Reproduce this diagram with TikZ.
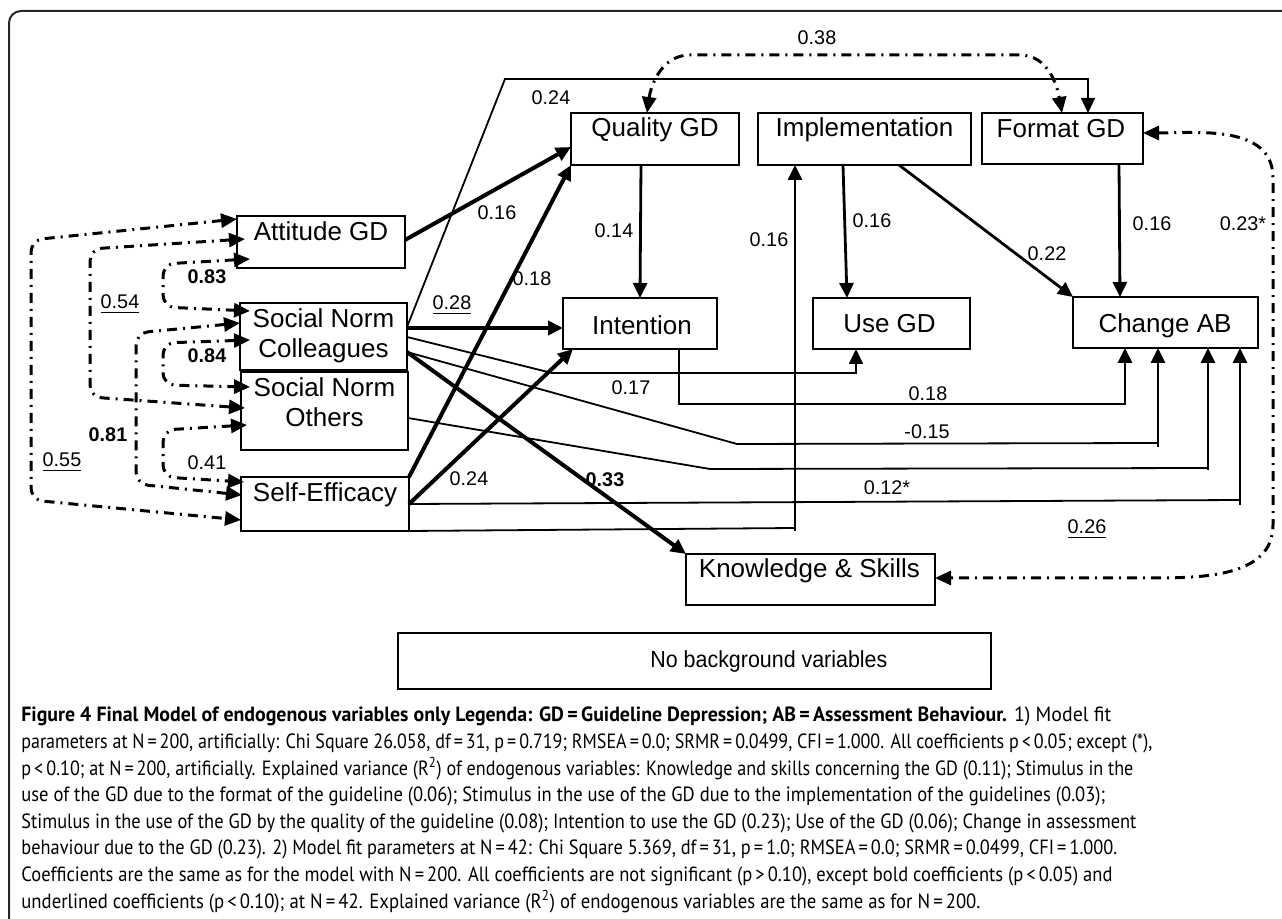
\documentclass[tikz,border=0pt]{standalone}
\usepackage{fontspec}
\usepackage{graphicx}
\setmainfont{Liberation Sans}
\newfontfamily\capfont{PT Sans}
\usetikzlibrary{arrows.meta,calc}
\tikzset{
  box/.style={draw=black, line width=1pt, inner sep=0pt, outer sep=0pt},
  txt/.style={inner sep=0pt, anchor=base, font=\fontsize{13}{15}\selectfont},
  lbl/.style={inner sep=0pt, anchor=base, font=\fontsize{9.9}{11}\selectfont},
  blbl/.style={inner sep=0pt, anchor=base, font=\fontsize{9.9}{11}\selectfont\bfseries},
  tip/.style={-{Triangle[length=7.5pt,width=7pt]}},
  cov/.style={line width=1.5pt, dash pattern=on 5pt off 3pt on 1pt off 3pt,
    {Triangle[length=8pt,width=7pt]}-{Triangle[length=8pt,width=7pt]}},
  thinln/.style={line width=0.9pt},
  medln/.style={line width=1.4pt},
  thickln/.style={line width=2pt},
  capl/.style={inner sep=0pt, anchor=base west, font=\capfont\fontsize{10.3}{12}\selectfont},
}
\begin{document}
\begin{tikzpicture}[x=0.5pt, y=-0.5pt]
\useasboundingbox (0,0) rectangle (1282,919);
\draw[line width=1pt, black!85, rounded corners=6pt] (9,11) rectangle (1300,935);

% boxes
\node[box, minimum width=84pt, minimum height=26pt] (att) at (321,242) {};
\node[box, minimum width=83.5pt, minimum height=33.5pt] (snc) at (323.5,336.5) {};
\node[box, minimum width=83.5pt, minimum height=39pt] (sno) at (324.5,411) {};
\node[box, minimum width=84pt, minimum height=27pt] (se) at (325,504) {};
\node[box, minimum width=84pt, minimum height=26pt] (qual) at (655,139) {};
\node[box, minimum width=106.5pt, minimum height=26pt] (impl) at (864.5,139) {};
\node[box, minimum width=80.5pt, minimum height=25.5pt] (fmt) at (1062.5,138.5) {};
\node[box, minimum width=77pt, minimum height=25.5pt] (int) at (640,323.5) {};
\node[box, minimum width=78.5pt, minimum height=25.5pt] (use) at (891.5,323.5) {};
\node[box, minimum width=92.5pt, minimum height=25.5pt] (chg) at (1165.5,322.5) {};
\node[box, minimum width=124.5pt, minimum height=25.5pt] (ks) at (810.5,579.5) {};
\node[box, minimum width=296.5pt, minimum height=28pt] (nbv) at (694.5,661) {};

% box texts
\node[txt] (tatt) at (321,241) {Attitude GD};
\node[txt] (tsnc1) at (323.5,328) {Social Norm};
\node[txt] (tsnc2) at (323.5,358) {Colleagues};
\node[txt] (tsno1) at (324.5,397) {Social Norm};
\node[txt] (tsno2) at (324.5,427) {Others};
\node[txt] (tse) at (325,502) {Self-Efficacy};
\node[txt] (tqual) at (655,137) {Quality GD};
\node[txt] (timpl) at (864.5,137) {Implementation};
\node[txt] (tfmt) at (1061,138) {Format GD};
\node[txt] (tint) at (642,335) {Intention};
\node[txt] (tuse) at (889.5,333) {Use GD};
\node[txt] (tchg) at (1165,333) {Change AB};
\node[txt] (tks) at (809.5,578) {Knowledge \& Skills};
\node[inner sep=0pt, anchor=base west, font=\fontsize{11.6}{14}\selectfont] (tnbv) at (650,668) {\resizebox{118.5pt}{\height}{No background variables}};

% covariances (dash-dot)
\draw[cov, rounded corners=6pt] (att.west |- 0,219) -- (31,240) -- (31,500) -- (se.west |- 0,520);
\draw[cov, rounded corners=6pt] ($(att.west |- 0,239)+(8,0)$) -- (90,249) -- (90,397) -- ($(sno.west |- 0,408)+(4,0)$);
\draw[cov, rounded corners=6pt] ($(att.west |- 0,259)+(13,0)$) -- (163,264) -- (163,307) -- ($(snc.west |- 0,311)+(10,0)$);
\draw[cov, rounded corners=6pt] ($(snc.west |- 0,340)+(10,0)$) -- (163,343) -- (163,385) -- ($(sno.west |- 0,387)+(9,0)$);
\draw[cov, rounded corners=6pt] (snc.west |- 0,323) -- (136,333) -- (136,484) -- ($(se.west |- 0,495)+(1,0)$);
\draw[cov, rounded corners=6pt] ($(sno.west |- 0,425)+(6,0)$) -- (163,430) -- (163,477) -- ($(se.west |- 0,482)+(3,0)$);
\draw[cov] (qual.north -| 647,0) to[out=82,in=180] (690,55) -- (1020,55) to[out=0,in=100] (fmt.north -| 1062,0);
\draw[cov] (fmt.east |- 0,133) to[out=0,in=90] (1273,178) -- (1273,525) to[out=-90,in=0] (1150,578) -- (ks.east |- 0,578);

% solid paths
\draw[thickln, tip] (att.east |- 0,240) -- (qual.west |- 0,147);
\draw[thickln, tip] (se.north east) -- (qual.south west);
\draw[thickln, tip] (snc.east |- 0,328) -- (int.west |- 0,328);
\draw[thickln, tip] (se.east |- 0,504) -- (int.south -| 573,0);
\draw[thickln, tip] (snc.east |- 0,352) -- (ks.north west);
\draw[medln, tip] (qual.south -| 641,0) -- (int.north -| 640,0);
\coordinate (k1) at (795,528);
\draw[thinln] (se.south east) -- (k1);
\draw[medln, tip] ($(k1)+(0,3)$) -- (impl.south -| 795,0);
\draw[medln, tip] (impl.south -| 843,0) -- (use.north -| 847,0);
\draw[medln, tip] (impl.south -| 899,0) -- (chg.north west);
\draw[medln, tip] (fmt.south -| 1119,0) -- (chg.north -| 1120,0);
\draw[thinln, tip] (snc.east |- 0,327) -- (505,79) -| (fmt.north -| 1088,0);
\draw[thinln, tip] (snc.east |- 0,337) -- (552,373) -| (use.south -| 856,0);
\coordinate (k2) at (1125,404);
\draw[thinln] (int.south -| 679,0) |- (k2);
\draw[medln, tip] ($(k2)+(0,1)$) -- (chg.south -| 1125,0);
\coordinate (k3) at (1158,443);
\draw[thinln] (snc.east |- 0,352) -- (737,444) -- (k3);
\draw[medln, tip] ($(k3)+(0,4)$) -- (chg.south -| 1158,0);
\coordinate (k4) at (1208,468);
\draw[thinln] (sno.east |- 0,418) -- (710,469) -- (k4);
\draw[medln, tip] ($(k4)+(0,2)$) -- (chg.south -| 1208,0);
\coordinate (k5) at (1240,500);
\draw[thinln] (se.east |- 0,504) -- (k5);
\draw[medln, tip] ($(k5)+(0,5)$) -- (chg.south -| 1240,0);

% labels
\node[lbl] (l1) at (817,45) {0.38};
\node[lbl] (l2) at (551,105) {0.24};
\node[lbl] (l3) at (497,220) {0.16};
\node[lbl] (l4) at (614,238) {0.14};
\node[lbl] (l5) at (769,247) {0.16};
\node[lbl] (l6) at (872,228) {0.16};
\node[lbl] (l7) at (1047,261) {0.22};
\node[lbl] (l8) at (1152,231) {0.16};
\node[lbl] (l9) at (1243,231) {0.23*};
\node[lbl] (l10) at (532,286) {0.18};
\node[blbl] (l11) at (207,284) {0.83};
\node[lbl] (l12) at (120,309) {\underline{0.54}};
\node[lbl] (l13) at (452,310) {\underline{0.28}};
\node[blbl] (l14) at (207,363) {0.84};
\node[lbl] (l15) at (631,395) {0.17};
\node[lbl] (l16) at (928,401) {0.18};
\node[lbl] (l17) at (927,439) {-0.15};
\node[blbl] (l18) at (108,442) {0.81};
\node[lbl] (l19) at (62,467) {\underline{0.55}};
\node[lbl] (l20) at (207,470) {0.41};
\node[lbl] (l21) at (469,486) {0.24};
\node[blbl] (l22) at (605,487) {0.33};
\node[lbl] (l23) at (887,495) {0.12*};
\node[lbl] (l24) at (1087,534) {\underline{0.26}};

% caption
\node[capl] (c1) at (21,722) {\resizebox{545pt}{\height}{\textbf{Figure 4 Final Model of endogenous variables only Legenda: GD\,=\,Guideline Depression; AB\,=\,Assessment Behaviour.} 1) Model fit}};
\node[capl] (c2) at (21,748.6) {\resizebox{565.5pt}{\height}{parameters at N\,=\,200, artificially: Chi Square 26.058, df\,=\,31, p\,=\,0.719; RMSEA\,=\,0.0; SRMR\,=\,0.0499, CFI\,=\,1.000. All coefficients p\,<\,0.05; except (*),}};
\node[capl] (c3) at (21,775.2) {\resizebox{556pt}{\height}{p\,<\,0.10; at N\,=\,200, artificially. Explained variance (R\textsuperscript{2}) of endogenous variables: Knowledge and skills concerning the GD (0.11); Stimulus in the}};
\node[capl] (c4) at (21,801.8) {\resizebox{542pt}{\height}{use of the GD due to the format of the guideline (0.06); Stimulus in the use of the GD due to the implementation of the guidelines (0.03);}};
\node[capl] (c5) at (21,828.4) {\resizebox{557.5pt}{\height}{Stimulus in the use of the GD by the quality of the guideline (0.08); Intention to use the GD (0.23); Use of the GD (0.06); Change in assessment}};
\node[capl] (c6) at (21,855) {\resizebox{548pt}{\height}{behaviour due to the GD (0.23). 2) Model fit parameters at N\,=\,42: Chi Square 5.369, df\,=\,31, p\,=\,1.0; RMSEA\,=\,0.0; SRMR\,=\,0.0499, CFI\,=\,1.000.}};
\node[capl] (c7) at (21,881.6) {\resizebox{545.5pt}{\height}{Coefficients are the same as for the model with N\,=\,200. All coefficients are not significant (p\,>\,0.10), except bold coefficients (p\,<\,0.05) and}};
\node[capl] (c8) at (21,908.2) {\resizebox{479.5pt}{\height}{underlined coefficients (p\,<\,0.10); at N\,=\,42. Explained variance (R\textsuperscript{2}) of endogenous variables are the same as for N\,=\,200.}};
\end{tikzpicture}
\end{document}
